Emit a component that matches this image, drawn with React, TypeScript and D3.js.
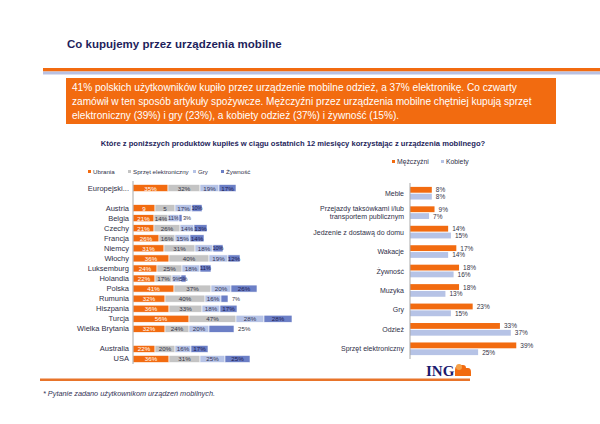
import React from "react";
import * as d3 from "d3";

const titleText = "Co kupujemy przez urządzenia mobilne";
const boxLines = [
  "41% polskich użytkowników kupiło przez urządzenie mobilne odzież, a 37% elektronikę. Co czwarty",
  "zamówił w ten sposób artykuły spożywcze. Mężczyźni przez urządzenia mobilne chętniej kupują sprzęt",
  "elektroniczny (39%) i gry (23%), a kobiety odzież (37%) i żywność (15%).",
];
const questionText =
  "Które z poniższych produktów kupiłeś w ciągu ostatnich 12 miesięcy korzystając z urządzenia mobilnego?";
const footnoteText = "* Pytanie zadano użytkownikom urządzeń mobilnych.";

// Left chart
const leftSlots = [
  "Europejski...", "_gap1", "Austria", "Belgia", "Czechy", "Francja", "Niemcy", "Włochy",
  "Luksemburg", "Holandia", "Polska", "Rumunia", "Hiszpania", "Turcja", "Wielka Brytania",
  "_gap2", "Australia", "USA",
];
const leftCategories = [
  "Europejski...", "Austria", "Belgia", "Czechy", "Francja", "Niemcy", "Włochy",
  "Luksemburg", "Holandia", "Polska", "Rumunia", "Hiszpania", "Turcja", "Wielka Brytania",
  "Australia", "USA",
];
const leftSeriesNames = ["Ubrania", "Sprzęt elektroniczny", "Gry", "Żywność"];
const ubrania = [35, 22, 21, 21, 26, 31, 36, 24, 22, 41, 32, 36, 56, 32, 22, 36];
const sprzet = [32, 20, 14, 26, 16, 31, 40, 25, 17, 37, 40, 33, 47, 24, 20, 31];
const gry = [19, 17, 11, 14, 15, 18, 19, 18, 9, 20, 16, 18, 28, 20, 16, 25];
const zywnosc = [17, 10, 3, 13, 14, 10, 12, 11, 5, 26, 7, 17, 28, 25, 17, 25];
const labelOverrides: Record<string, (string | null)[]> = {
  Austria: ["9", "5", null, null],
};
const lastLabelOutside = ["Belgia", "Rumunia", "Wielka Brytania"];

// Right chart
const rightSeriesNames = ["Mężczyźni", "Kobiety"];
const rightCategories = [
  ["Meble"],
  ["Przejazdy taksówkami i/lub", "transportem publicznym"],
  ["Jedzenie z dostawą do domu"],
  ["Wakacje"],
  ["Żywność"],
  ["Muzyka"],
  ["Gry"],
  ["Odzież"],
  ["Sprzęt elektroniczny"],
];
const mezczyzni = [8, 9, 14, 17, 18, 18, 23, 33, 39];
const kobiety = [8, 7, 15, 14, 16, 13, 15, 37, 25];

const ORANGE = "#f26b10";
const GREY = "#c4c4c4";
const LIGHTBLUE = "#b6c3e6";
const DARKBLUE = "#6c7fc6";
const NAVY = "#1f1f5c";
const LABEL = "#2f2f48";
const FONT = "'Liberation Sans', Arial, sans-serif";

export default function App() {
  const leftColors = [ORANGE, GREY, LIGHTBLUE, DARKBLUE];
  const leftTextColors = ["#ffffff", "#333344", "#333355", "#1a1a50"];
  const leftSeries = [ubrania, sprzet, gry, zywnosc];

  const yL = d3.scaleBand<string>().domain(leftSlots).range([183, 364]).paddingInner(0.3).paddingOuter(0.15);
  const xL = d3.scaleLinear().domain([0, 100]).range([133, 233]);

  const yR = d3.scaleBand<number>().domain(d3.range(rightCategories.length)).range([183, 359]).paddingInner(0.35).paddingOuter(0.2);
  const xR = d3.scaleLinear().domain([0, 40]).range([410, 519]);

  const leftLegendX = [88, 128, 193, 221];
  const rightLegendX = [392, 441];

  return (
    <svg width={600} height={424} style={{ position: "absolute", left: 0, top: 0, background: "#fff" }} fontFamily={FONT}>
      <rect x={0} y={0} width={600} height={424} fill="#fff" />
      {/* Title */}
      <text x={67} y={48} fontSize={11.5} fontWeight="bold" fill={NAVY}>{titleText}</text>
      <rect x={43} y={68} width={557} height={3.5} fill={ORANGE} />
      <rect x={43} y={71.5} width={557} height={3} fill="#b9c1e2" />

      {/* Orange box */}
      <rect x={66} y={78} width={490} height={46} fill={ORANGE} />
      {boxLines.map((l, i) => (
        <text key={i} x={72} y={91 + i * 14} fontSize={10.1} fill="#fff">{l}</text>
      ))}

      {/* Question */}
      <text x={293} y={146} fontSize={7.6} fontWeight="bold" fill={NAVY} textAnchor="middle">{questionText}</text>

      {/* Left legend */}
      {leftSeriesNames.map((n, i) => (
        <g key={n}>
          <rect x={leftLegendX[i]} y={170} width={3} height={3} fill={leftColors[i]} />
          <text x={leftLegendX[i] + 5} y={174} fontSize={6.2} fill={LABEL}>{n}</text>
        </g>
      ))}

      {/* Left chart */}
      {leftCategories.map((c, ci) => {
        const y0 = yL(c)!;
        const bh = yL.bandwidth();
        let acc = 0;
        return (
          <g key={c}>
            <text x={129} y={y0 + bh / 2} fontSize={7.5} fill={LABEL} textAnchor="end" dominantBaseline="central">{c}</text>
            {leftSeries.map((s, si) => {
              const v = s[ci];
              const x0 = xL(acc);
              const x1 = xL(acc + v);
              acc += v;
              const ov = labelOverrides[c];
              const lab = ov && ov[si] != null ? ov[si]! : `${v}%`;
              const outside = si === 3 && lastLabelOutside.includes(c);
              return (
                <g key={si}>
                  <rect x={x0} y={y0} width={x1 - x0} height={bh} fill={leftColors[si]} stroke="#fff" strokeWidth={0.6} />
                  <text
                    x={outside ? x1 + (v < 5 ? 1 : 4) : (x0 + x1) / 2}
                    y={y0 + bh / 2}
                    fontSize={v < 12 ? 5.6 : 6.2}
                    fill={outside ? "#333344" : leftTextColors[si]}
                    textAnchor={outside ? "start" : "middle"}
                    dominantBaseline="central"
                  >
                    {lab}
                  </text>
                </g>
              );
            })}
          </g>
        );
      })}
      <line x1={133} x2={133} y1={181} y2={364} stroke="#a8a8a8" strokeWidth={1} />

      {/* Right legend */}
      {rightSeriesNames.map((n, i) => (
        <g key={n}>
          <rect x={rightLegendX[i]} y={160} width={3} height={3} fill={i === 0 ? ORANGE : LIGHTBLUE} />
          <text x={rightLegendX[i] + 5} y={164} fontSize={6.8} fill={LABEL}>{n}</text>
        </g>
      ))}

      {/* Right chart */}
      {rightCategories.map((lines, i) => {
        const y0 = yR(i)!;
        const bw = yR.bandwidth();
        const h = bw / 2 - 0.5;
        const cy = y0 + bw / 2;
        return (
          <g key={i}>
            {lines.map((l, li) => (
              <text key={li} x={404} y={cy + (li - (lines.length - 1) / 2) * 8} fontSize={7} fill={LABEL} textAnchor="end" dominantBaseline="central">{l}</text>
            ))}
            <rect x={xR(0)} y={y0} width={xR(mezczyzni[i]) - xR(0)} height={h} fill={ORANGE} />
            <rect x={xR(0)} y={y0 + h + 1} width={xR(kobiety[i]) - xR(0)} height={h} fill={LIGHTBLUE} />
            <text x={xR(mezczyzni[i]) + 4} y={y0 + h / 2} fontSize={6.5} fill="#333344" dominantBaseline="central">{`${mezczyzni[i]}%`}</text>
            <text x={xR(kobiety[i]) + 4} y={y0 + h + 1 + h / 2} fontSize={6.5} fill="#333344" dominantBaseline="central">{`${kobiety[i]}%`}</text>
          </g>
        );
      })}
      <line x1={410} x2={410} y1={183} y2={359} stroke="#a8a8a8" strokeWidth={1} />

      {/* Footer */}
      <rect x={40} y={378.5} width={430} height={2.5} fill="#e8742a" />
      <text x={426} y={376} fontSize={15} fontWeight="bold" fontFamily="'Liberation Serif', 'DejaVu Serif', serif" fill="#1a1a6e">ING</text>
      <g fill={ORANGE}>
        <path d="M455,376 L455,370 Q455,365 460,365 L463,365 Q466,365 466,368 L468,368 Q471,368 471,372 L471,376 Z" />
        <circle cx={459} cy={367} r={3} fill="#f5a048" />
      </g>
      <text x={43} y={396} fontSize={7.3} fontStyle="italic" fill="#333355">{footnoteText}</text>
    </svg>
  );
}
